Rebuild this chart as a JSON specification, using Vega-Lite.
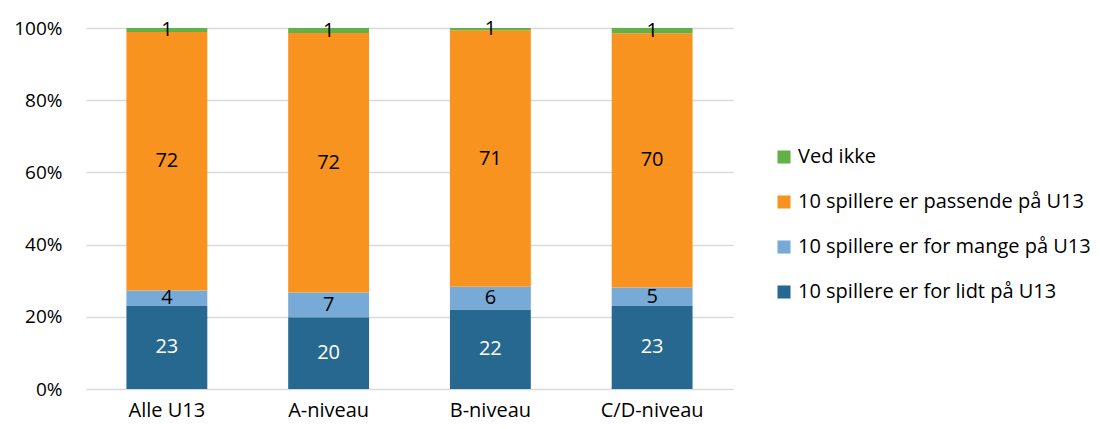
{
  "$schema": "https://vega.github.io/schema/vega-lite/v6.json",
  "width": 647,
  "height": 361,
  "autosize": {"type": "none"},
  "padding": {"left": 86, "top": 28, "right": 367, "bottom": 40},
  "background": "white",
  "config": {
    "view": {"stroke": null},
    "font": "Open Sans",
    "axis": {"labelFont": "Open Sans", "labelFontSize": 20, "labelColor": "#000000"},
    "legend": {"labelFont": "Open Sans", "labelFontSize": 20, "labelColor": "#000000", "labelLimit": 400}
  },
  "data": {
    "values": [
      {"gruppe": "Alle U13", "svar": "10 spillere er for lidt på U13", "orden": 1, "andel": 23.0},
      {"gruppe": "Alle U13", "svar": "10 spillere er for mange på U13", "orden": 2, "andel": 4.3},
      {"gruppe": "Alle U13", "svar": "10 spillere er passende på U13", "orden": 3, "andel": 71.6},
      {"gruppe": "Alle U13", "svar": "Ved ikke", "orden": 4, "andel": 1.1},
      {"gruppe": "A-niveau", "svar": "10 spillere er for lidt på U13", "orden": 1, "andel": 19.9},
      {"gruppe": "A-niveau", "svar": "10 spillere er for mange på U13", "orden": 2, "andel": 6.8},
      {"gruppe": "A-niveau", "svar": "10 spillere er passende på U13", "orden": 3, "andel": 71.9},
      {"gruppe": "A-niveau", "svar": "Ved ikke", "orden": 4, "andel": 1.4},
      {"gruppe": "B-niveau", "svar": "10 spillere er for lidt på U13", "orden": 1, "andel": 22.0},
      {"gruppe": "B-niveau", "svar": "10 spillere er for mange på U13", "orden": 2, "andel": 6.3},
      {"gruppe": "B-niveau", "svar": "10 spillere er passende på U13", "orden": 3, "andel": 71.1},
      {"gruppe": "B-niveau", "svar": "Ved ikke", "orden": 4, "andel": 0.6},
      {"gruppe": "C/D-niveau", "svar": "10 spillere er for lidt på U13", "orden": 1, "andel": 23.0},
      {"gruppe": "C/D-niveau", "svar": "10 spillere er for mange på U13", "orden": 2, "andel": 5.1},
      {"gruppe": "C/D-niveau", "svar": "10 spillere er passende på U13", "orden": 3, "andel": 70.45},
      {"gruppe": "C/D-niveau", "svar": "Ved ikke", "orden": 4, "andel": 1.45}
    ]
  },
  "transform": [
    {"stack": "andel", "groupby": ["gruppe"], "sort": [{"field": "orden", "order": "ascending"}], "as": ["y0", "y1"]},
    {"calculate": "(datum.y0 + datum.y1) / 2", "as": "ymid"}
  ],
  "encoding": {
    "x": {
      "field": "gruppe",
      "type": "nominal",
      "sort": ["Alle U13", "A-niveau", "B-niveau", "C/D-niveau"],
      "scale": {"paddingInner": 0.5, "paddingOuter": 0.25},
      "axis": {"title": null, "labelAngle": 0, "domain": false, "ticks": false, "labelPadding": 11, "grid": false}
    }
  },
  "layer": [
    {
      "mark": {"type": "bar"},
      "encoding": {
        "y": {
          "field": "y0",
          "type": "quantitative",
          "scale": {"domain": [0, 100]},
          "axis": {
            "title": null,
            "values": [0, 20, 40, 60, 80, 100],
            "labelExpr": "datum.value + '%'",
            "labelFontSize": 19,
            "domain": false,
            "ticks": false,
            "labelPadding": 24,
            "gridColor": "#d9d9d9",
            "gridWidth": 1.5
          }
        },
        "y2": {"field": "y1"},
        "color": {
          "field": "svar",
          "type": "nominal",
          "scale": {
            "domain": ["Ved ikke", "10 spillere er passende på U13", "10 spillere er for mange på U13", "10 spillere er for lidt på U13"],
            "range": ["#62b046", "#f7931e", "#77aad6", "#276890"]
          },
          "legend": {
            "title": null,
            "orient": "none",
            "legendX": 688,
            "legendY": 119,
            "symbolType": "square",
            "symbolSize": 170,
            "symbolStrokeWidth": 0,
            "rowPadding": 25,
            "labelOffset": 4
          }
        }
      }
    },
    {
      "mark": {"type": "text", "fontSize": 20, "font": "Open Sans", "baseline": "middle"},
      "encoding": {
        "y": {"field": "ymid", "type": "quantitative"},
        "text": {"field": "andel", "type": "quantitative", "format": ".0f"},
        "color": {
          "condition": {"test": "datum.orden === 1", "value": "#ffffff"},
          "value": "#000000"
        }
      }
    }
  ]
}
